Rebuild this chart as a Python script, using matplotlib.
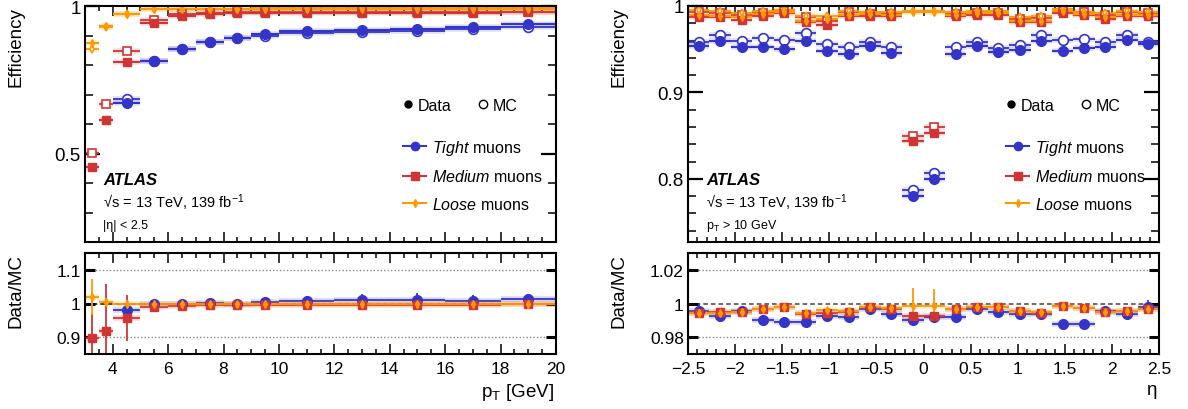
import numpy as np
import matplotlib
matplotlib.use('Agg')
import matplotlib.pyplot as plt
from matplotlib.lines import Line2D
from matplotlib.ticker import MultipleLocator, FixedLocator, FuncFormatter

plt.rcParams['font.family'] = ['Liberation Sans', 'DejaVu Sans']
plt.rcParams['mathtext.fontset'] = 'custom'
plt.rcParams['mathtext.rm'] = 'Liberation Sans'
plt.rcParams['mathtext.it'] = 'Liberation Sans:italic'
plt.rcParams['mathtext.bf'] = 'Liberation Sans:bold'

BLUE = '#3434c8'
RED = '#cf3535'
ORANGE = '#ff9900'

# ---------------- pT binning (left) ----------------
pt_edges = np.array([3, 3.5, 4, 5, 6, 7, 8, 9, 10, 12, 14, 16, 18, 20])
nan = np.nan

tight_data_pt = [nan, nan, 0.672, 0.815, 0.855, 0.879, 0.893, 0.904, 0.916, 0.919, 0.922, 0.928, 0.940]
tight_mc_pt = [nan, nan, 0.686, 0.815, 0.855, 0.877, 0.893, 0.900, 0.908, 0.911, 0.915, 0.921, 0.929]
tight_ratio_pt = [nan, nan, 0.982, 1.000, 1.000, 1.002, 1.000, 1.003, 1.007, 1.010, 1.010, 1.007, 1.012]
tight_rerr_pt = [nan, nan, 0.008, 0.006, 0.008, 0.012, 0.008, 0.012, 0.015, 0.018, 0.020, 0.018, 0.016]

medium_data_pt = [0.455, 0.612, 0.810, 0.943, 0.965, 0.973, 0.975, 0.975, 0.976, 0.977, 0.977, 0.977, 0.978]
medium_mc_pt = [0.503, 0.669, 0.846, 0.953, 0.973, 0.977, 0.978, 0.979, 0.980, 0.980, 0.980, 0.981, 0.980]
medium_ratio_pt = [0.898, 0.917, 0.956, 0.990, 0.993, 0.995, 0.995, 0.996, 0.996, 0.997, 0.997, 0.995, 0.998]
medium_rerr_pt = [0.073, 0.142, 0.068, 0.012, 0.008, 0.008, 0.006, 0.006, 0.006, 0.006, 0.008, 0.008, 0.006]

loose_data_pt = [0.874, 0.933, 0.974, 0.990, 0.990, 0.991, 0.991, 0.991, 0.991, 0.991, 0.991, 0.991, 0.991]
loose_mc_pt = [0.855, 0.930, 0.974, 0.990, 0.991, 0.991, 0.991, 0.992, 0.992, 0.992, 0.992, 0.992, 0.992]
loose_ratio_pt = [1.020, 1.004, 1.000, 0.999, 0.999, 0.999, 0.999, 0.999, 0.999, 0.999, 0.999, 0.998, 0.998]
loose_rerr_pt = [0.053, 0.012, 0.010, 0.004, 0.004, 0.004, 0.004, 0.004, 0.004, 0.004, 0.004, 0.004, 0.004]

# ---------------- eta binning (right) ----------------
eta_edges = np.linspace(-2.5, 2.5, 23)

tight_data_eta = [0.954, 0.959, 0.953, 0.953, 0.950, 0.959, 0.948, 0.944, 0.954, 0.946, 0.780,
                  0.800, 0.945, 0.954, 0.947, 0.949, 0.959, 0.948, 0.951, 0.953, 0.961, 0.956]
tight_mc_eta = [0.958, 0.966, 0.959, 0.963, 0.961, 0.969, 0.956, 0.952, 0.958, 0.953, 0.787,
                0.807, 0.953, 0.958, 0.951, 0.955, 0.966, 0.961, 0.962, 0.958, 0.966, 0.958]
tight_ratio_eta = [0.9955, 0.9928, 0.9955, 0.9900, 0.9890, 0.9890, 0.9925, 0.9918, 0.9970, 0.9935, 0.9900,
                   0.9920, 0.9918, 0.9968, 0.9950, 0.9940, 0.9935, 0.9880, 0.9880, 0.9955, 0.9938, 0.9980]
tight_rerr_eta = [0.004, 0.001, 0.001, 0.001, 0.001, 0.001, 0.001, 0.001, 0.001, 0.001, 0.003,
                  0.003, 0.001, 0.001, 0.001, 0.001, 0.001, 0.001, 0.001, 0.001, 0.001, 0.004]

medium_data_eta = [0.9875, 0.987, 0.984, 0.989, 0.992, 0.981, 0.978, 0.988, 0.989, 0.988, 0.844,
                   0.853, 0.988, 0.990, 0.990, 0.981, 0.981, 0.992, 0.990, 0.985, 0.989, 0.989]
medium_mc_eta = [0.993, 0.992, 0.990, 0.992, 0.994, 0.987, 0.983, 0.993, 0.991, 0.991, 0.850,
                 0.8595, 0.991, 0.992, 0.992, 0.985, 0.986, 0.994, 0.9925, 0.990, 0.993, 0.992]
medium_ratio_eta = [0.9942, 0.9947, 0.9947, 0.9969, 0.9980, 0.9940, 0.9945, 0.9951, 0.9977, 0.9970, 0.9928,
                    0.9928, 0.9965, 0.9977, 0.9980, 0.9957, 0.9946, 0.9984, 0.9975, 0.9947, 0.9957, 0.9967]
medium_rerr_eta = [0.0008, 0.0008, 0.0008, 0.0008, 0.0008, 0.0008, 0.0008, 0.0008, 0.0008, 0.0008, 0.002,
                   0.002, 0.0008, 0.0008, 0.0008, 0.0008, 0.0008, 0.0008, 0.0008, 0.0008, 0.0008, 0.0008]

loose_data_eta = [0.990, 0.989, 0.987, 0.991, 0.993, 0.983, 0.985, 0.990, 0.991, 0.990, 0.993,
                  0.993, 0.990, 0.992, 0.992, 0.983, 0.983, 0.994, 0.991, 0.987, 0.990, 0.990]
loose_mc_eta = [0.995, 0.994, 0.992, 0.994, 0.995, 0.989, 0.989, 0.994, 0.993, 0.993, 0.994,
                0.994, 0.993, 0.994, 0.994, 0.987, 0.988, 0.996, 0.993, 0.992, 0.994, 0.993]
loose_ratio_eta = [0.9945, 0.9945, 0.9950, 0.9970, 0.9980, 0.9942, 0.9960, 0.9955, 0.9980, 0.9972, 0.9985,
                   0.9985, 0.9967, 0.9978, 0.9982, 0.9957, 0.9948, 0.9983, 0.9975, 0.9948, 0.9957, 0.9965]
loose_rerr_eta = [0.0008, 0.0008, 0.0008, 0.0008, 0.0008, 0.0008, 0.0008, 0.0008, 0.0008, 0.0008, 0.011,
                  0.010, 0.0008, 0.0008, 0.0008, 0.0008, 0.0008, 0.0008, 0.0008, 0.0008, 0.0008, 0.0008]

series_style = [  # (color, marker, markersize)
    (BLUE, 'o', 7),
    (RED, 's', 6),
    (ORANGE, 'd', 4),
]


def fmt_num(v, pos):
    return ('%g' % round(v, 4)).replace('-', '\u2212')


def draw_eff(ax, x, xerr, data, mc, color, marker, ms):
    ax.errorbar(x, mc, xerr=xerr, fmt='none', ecolor=color, elinewidth=4, alpha=0.15)
    ax.errorbar(x, mc, xerr=xerr, fmt=marker, color=color, mfc='white', mec=color, mew=1.2,
                ms=ms, elinewidth=1.3, capsize=0)
    ax.errorbar(x, data, xerr=xerr, fmt='none', ecolor=color, elinewidth=4, alpha=0.15)
    ax.errorbar(x, data, xerr=xerr, fmt=marker, color=color, ms=ms, elinewidth=1.5, capsize=0)


def draw_ratio(ax, x, xerr, r, rerr, color, marker, ms):
    ax.errorbar(x, r, xerr=xerr, fmt='none', ecolor=color, elinewidth=4, alpha=0.2)
    ax.errorbar(x, r, xerr=xerr, yerr=rerr, fmt=marker, color=color, ms=ms,
                elinewidth=1.3, capsize=0)


def style_axes(ax, ylen_major, ylen_minor):
    for s in ax.spines.values():
        s.set_linewidth(1.5)
    ax.tick_params(which='both', direction='in', top=True, right=True, width=1.1)
    ax.tick_params(axis='x', which='major', length=7)
    ax.tick_params(axis='x', which='minor', length=3.5)
    ax.tick_params(axis='y', which='major', length=ylen_major, width=1.6)
    ax.tick_params(axis='y', which='minor', length=ylen_minor)
    ax.xaxis.set_major_formatter(FuncFormatter(fmt_num))
    ax.yaxis.set_major_formatter(FuncFormatter(fmt_num))


fig = plt.figure(figsize=(11.88, 4.10), dpi=100)

LX, RX = 85 / 1188, 688 / 1188
W = 471 / 1188
TOP_Y, TOP_H = 167 / 410, 236 / 410
RAT_Y, RAT_H = 55 / 410, 101 / 410

panels = [
    dict(x0=LX, edges=pt_edges, xlim=(3, 20), ylim=(0.2, 1.0), rlim=(0.85, 1.15),
         yticks=[0.5, 1.0], yminor=0.1, rticks=[0.9, 1.0, 1.1], xmaj=2, xmin=0.5,
         xlabel=r'p$_{\mathrm{T}}$ [GeV]', sel='|\u03b7| < 2.5',
         eff=[(tight_data_pt, tight_mc_pt), (medium_data_pt, medium_mc_pt), (loose_data_pt, loose_mc_pt)],
         rat=[(tight_ratio_pt, tight_rerr_pt), (medium_ratio_pt, medium_rerr_pt), (loose_ratio_pt, loose_rerr_pt)],
         refcolor='black'),
    dict(x0=RX, edges=eta_edges, xlim=(-2.5, 2.5), ylim=(0.727, 1.0), rlim=(0.97, 1.03),
         yticks=[0.8, 0.9, 1.0], yminor=0.02, rticks=[0.98, 1.0, 1.02], xmaj=0.5, xmin=0.1,
         xlabel='\u03b7', sel=r'p$_{\mathrm{T}}$ > 10 GeV',
         eff=[(tight_data_eta, tight_mc_eta), (medium_data_eta, medium_mc_eta), (loose_data_eta, loose_mc_eta)],
         rat=[(tight_ratio_eta, tight_rerr_eta), (medium_ratio_eta, medium_rerr_eta), (loose_ratio_eta, loose_rerr_eta)],
         refcolor='#444444'),
]

for p in panels:
    edges = p['edges']
    xc = (edges[:-1] + edges[1:]) / 2
    xe = (edges[1:] - edges[:-1]) / 2

    ax = fig.add_axes([p['x0'], TOP_Y, W, TOP_H])
    rax = fig.add_axes([p['x0'], RAT_Y, W, RAT_H])

    # efficiency panel
    for (d, m), (c, mk, ms) in zip(p['eff'], series_style):
        draw_eff(ax, xc, xe, d, m, c, mk, ms)
    ax.set_xlim(*p['xlim'])
    ax.set_ylim(*p['ylim'])
    ax.yaxis.set_major_locator(FixedLocator(p['yticks']))
    ax.yaxis.set_minor_locator(MultipleLocator(p['yminor']))
    ax.xaxis.set_major_locator(MultipleLocator(p['xmaj']))
    ax.xaxis.set_minor_locator(MultipleLocator(p['xmin']))
    style_axes(ax, 11, 5.5)
    ax.tick_params(labelbottom=False)
    ax.tick_params(axis='y', labelsize=13.5, pad=3)
    ax.set_ylabel('Efficiency', fontsize=13.5, loc='top')
    ax.yaxis.set_label_coords(-0.128, 1.0)

    ax.text(0.038, 0.263, 'ATLAS', transform=ax.transAxes, fontsize=12,
            fontweight='bold', style='italic', va='center')
    ax.text(0.038, 0.172, '\u221as = 13 TeV, 139 fb$^{-1}$', transform=ax.transAxes,
            fontsize=10.5, va='center')
    ax.text(0.038, 0.072, p['sel'], transform=ax.transAxes, fontsize=9, va='center')

    leg1 = ax.legend(handles=[
        Line2D([], [], ls='none', marker='o', color='black', ms=5),
        Line2D([], [], ls='none', marker='o', mfc='white', mec='black', mew=1.0, ms=6)],
        labels=['Data', 'MC'], ncol=2, loc='center left', bbox_to_anchor=(0.675, 0.58),
        frameon=False, fontsize=11.5, handlelength=0.6, handletextpad=0.3,
        columnspacing=1.7, borderpad=0, borderaxespad=0)
    ax.add_artist(leg1)
    ax.legend(handles=[
        Line2D([], [], color=BLUE, marker='o', ms=6, lw=1.5),
        Line2D([], [], color=RED, marker='s', ms=6, lw=1.5),
        Line2D([], [], color=ORANGE, marker='d', ms=4, lw=1.5)],
        labels=[r'$\it{Tight}$ muons', r'$\it{Medium}$ muons', r'$\it{Loose}$ muons'],
        loc='center left', bbox_to_anchor=(0.675, 0.284), frameon=False, fontsize=11.5,
        handlelength=1.45, handletextpad=0.35, labelspacing=0.72, borderpad=0, borderaxespad=0)

    # ratio panel
    r0, r1 = p['rlim']
    for t in p['rticks']:
        if t == 1.0:
            rax.axhline(t, color=p['refcolor'], ls=(0, (3, 2)), lw=1.1, zorder=1)
        else:
            rax.axhline(t, color='#888888', ls=(0, (1, 1.5)), lw=1.0, zorder=1)
    for (r, e), (c, mk, ms) in zip(p['rat'], series_style):
        draw_ratio(rax, xc, xe, r, e, c, mk, ms)
    rax.set_xlim(*p['xlim'])
    rax.set_ylim(r0, r1)
    rax.yaxis.set_major_locator(FixedLocator(p['rticks']))
    rax.xaxis.set_major_locator(MultipleLocator(p['xmaj']))
    rax.xaxis.set_minor_locator(MultipleLocator(p['xmin']))
    style_axes(rax, 7, 0)
    rax.tick_params(axis='y', which='major', width=2.2)
    rax.tick_params(axis='both', labelsize=12.5, pad=3)
    rax.tick_params(axis='x', pad=5)
    rax.set_ylabel('Data/MC', fontsize=13.5, loc='top')
    rax.yaxis.set_label_coords(-0.128, 1.0)
    rax.set_xlabel(p['xlabel'], fontsize=13.5, loc='right')
    rax.xaxis.set_label_coords(0.995, -0.27)

fig.savefig('out.png', dpi=100)
